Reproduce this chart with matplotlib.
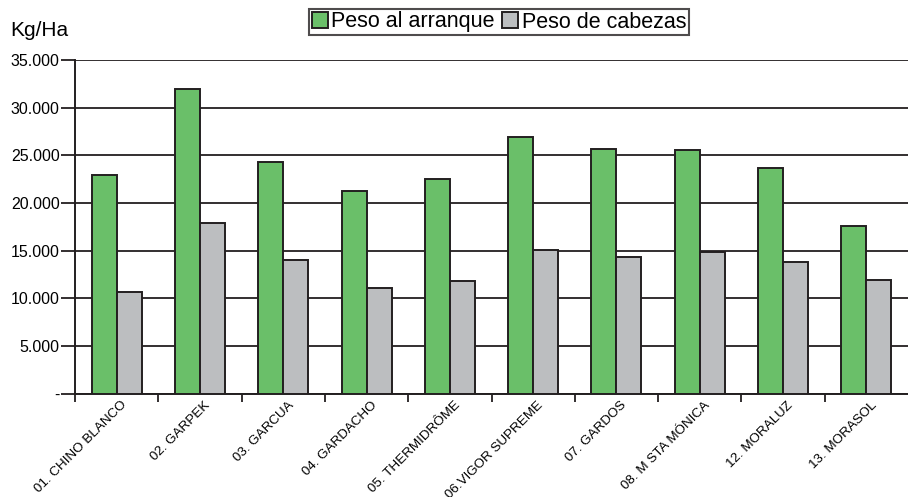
import matplotlib.pyplot as plt
import numpy as np
from matplotlib.ticker import FuncFormatter

plt.rcParams["font.family"] = ["Liberation Sans", "DejaVu Sans"]

varieties = [
    "01. CHINO BLANCO", "02. GARPEK", "03. GARCUA", "04. GARDACHO",
    "05. THERMIDRÔME", "06.VIGOR SUPREME", "07. GARDOS",
    "08. M STA MÓNICA", "12. MORALUZ", "13. MORASOL",
]
peso_arranque = [22900, 32000, 24300, 21200, 22500, 26900, 25700, 25600, 23700, 17600]
peso_cabezas = [10600, 17900, 14000, 11100, 11800, 15100, 14300, 14900, 13800, 11900]

INK = "#231f20"
GREEN = "#6abf69"
GREY = "#bcbec0"

fig = plt.figure(figsize=(9.08, 4.97), dpi=100)
# axes box in pixels: left 75, right 908, bottom 393.5, top 60
ax = fig.add_axes([75 / 908, 1 - 393.5 / 497, 833 / 908, 333.5 / 497])

x = np.arange(len(varieties))
w = 0.3
ax.bar(x - w / 2, peso_arranque, w, color=GREEN, edgecolor=INK, linewidth=1.4,
       label="Peso al arranque", zorder=3)
ax.bar(x + w / 2, peso_cabezas, w, color=GREY, edgecolor=INK, linewidth=1.4,
       label="Peso de cabezas", zorder=3)

ax.set_xlim(-0.5, len(varieties) - 0.5)
ax.set_ylim(0, 35000)
ax.set_yticks(np.arange(0, 35001, 5000))


def thousands(v, pos):
    if v == 0:
        return "-"
    return f"{int(v):,}".replace(",", ".")


ax.yaxis.set_major_formatter(FuncFormatter(thousands))
ax.grid(axis="y", color=INK, linewidth=1.3, zorder=0)
ax.tick_params(axis="y", length=10, width=1.3, color=INK, labelsize=11.5, pad=1)

# category boundaries as x ticks, labels at centers
ax.set_xticks(np.arange(len(varieties)) - 0.5)
ax.set_xticklabels([])
ax.set_xticks(x + 0.05, minor=True)
ax.set_xticklabels(varieties, minor=True, rotation=45, ha="right", va="top",
                   rotation_mode="anchor", fontsize=9.6)
ax.tick_params(axis="x", which="major", length=6, width=1.3, color=INK)
ax.tick_params(axis="x", which="minor", length=0, pad=4)

for side in ["top", "right"]:
    ax.spines[side].set_visible(False)
for side in ["left", "bottom"]:
    ax.spines[side].set_color(INK)
    ax.spines[side].set_linewidth(1.4)

fig.text(10 / 908, 1 - 30 / 497, "Kg/Ha", fontsize=15, va="center", ha="left")

leg = fig.legend(loc="center", bbox_to_anchor=(499 / 908, 1 - 22 / 497), ncol=2,
                 fontsize=15.5, frameon=True, fancybox=False, handlelength=0.75,
                 handleheight=0.75, handletextpad=0.15, columnspacing=0.35,
                 borderpad=0.12, borderaxespad=0)
leg.get_frame().set_edgecolor(INK)
leg.get_frame().set_linewidth(1.5)

fig.savefig("out.png", dpi=100)
